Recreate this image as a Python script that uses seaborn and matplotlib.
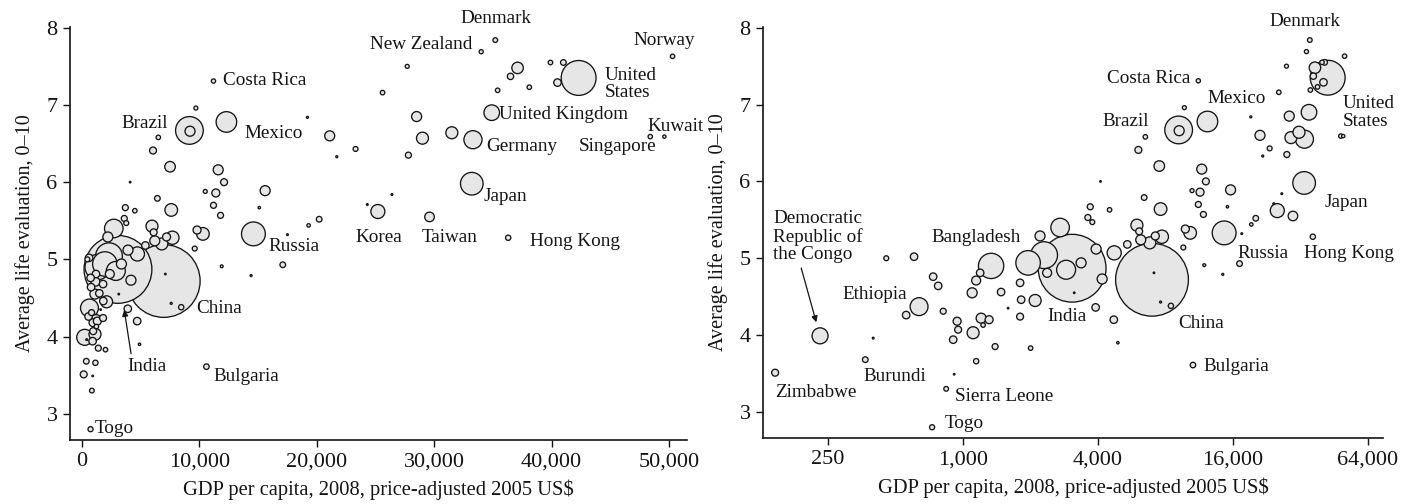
import numpy as np
import pandas as pd
import matplotlib
matplotlib.use("Agg")
import matplotlib.pyplot as plt
import seaborn as sns
from matplotlib.ticker import FixedLocator, FuncFormatter, NullLocator

# ---------------------------------------------------------------------------
# Data: GDP per capita (2005 US$, PPP), average life evaluation (0-10),
# population (millions) for each country, 2008.
# ---------------------------------------------------------------------------
country = [
    "Togo", "Zimbabwe", "Burundi", "Sierra Leone",
    "Democratic Republic of the Congo", "Ethiopia", "Bangladesh", "India",
    "China", "Bulgaria", "Russia", "Hong Kong", "Japan", "Korea", "Taiwan",
    "Germany", "Singapore", "Kuwait", "United Kingdom", "United States",
    "Norway", "Denmark", "New Zealand", "Costa Rica", "Brazil", "Mexico",
]
gdp = [
    727, 145, 366, 840, 230, 636, 1333, 3063, 6960, 10600, 14600, 36300,
    33200, 25200, 29600, 33300, 48400, 49600, 34900, 42300, 50300, 35200,
    34000, 11200, 9150, 12300,
]
life = [
    2.80, 3.51, 3.68, 3.30, 3.99, 4.37, 4.90, 4.87, 4.72, 3.61, 5.33, 5.28,
    5.98, 5.62, 5.55, 6.55, 6.59, 6.59, 6.90, 7.35, 7.63, 7.84, 7.69, 7.31,
    6.67, 6.78,
]
population = [
    6.5, 12, 8, 5.5, 64, 80, 160, 1150, 1325, 7.6, 142, 7, 128, 49, 23, 82,
    4.8, 2.7, 61, 304, 4.8, 5.5, 4.3, 4.5, 192, 106,
]

# remaining countries (unlabelled)
other_gdp = [
    454, 604, 397, 557, 735, 774, 815, 940, 950, 903, 912, 1108, 1203, 1306,
    1228, 1389, 1143, 1097, 1143, 1191, 1477, 1587, 1795, 1815, 1795, 2095,
    2000, 1949, 2297, 2203, 2708, 2880, 3360, 2370, 3920, 4170, 3130, 4720,
    3690, 3600, 3770, 4500, 4100, 6420, 5960, 6100, 6200, 5400, 6800, 7200,
    7700, 7600, 6050, 6500, 7500, 9700, 9200, 10300, 9800, 9600, 11600,
    12100, 11400, 10500, 11200, 11800, 15600, 15100, 19200, 21100, 21700,
    23300, 20200, 19300, 17500, 17100, 14400, 11900, 7600, 8450, 7100, 4700,
    3900, 4900, 25600, 27700, 37100, 36500, 39900, 41000, 40500, 35400,
    38100, 28500, 29000, 31500, 27800, 26400, 24300,
]
other_life = [
    5.00, 5.02, 3.96, 4.26, 4.76, 4.64, 4.31, 4.18, 4.07, 3.94, 3.49, 4.03,
    4.22, 4.20, 4.13, 3.85, 3.66, 4.55, 4.71, 4.81, 4.56, 4.35, 4.68, 4.46,
    4.24, 4.45, 3.83, 4.94, 5.04, 5.29, 5.40, 4.85, 4.94, 4.81, 5.12, 4.73,
    4.55, 5.07, 5.67, 5.53, 5.47, 5.63, 6.00, 5.79, 5.43, 5.35, 5.24, 5.18,
    5.20, 5.29, 5.28, 5.64, 6.41, 6.58, 6.20, 6.96, 6.66, 5.33, 5.38, 5.14,
    6.16, 6.00, 5.86, 5.88, 5.70, 5.57, 5.89, 5.67, 6.84, 6.60, 6.33, 6.43,
    5.52, 5.44, 5.32, 4.93, 4.79, 4.91, 4.43, 4.38, 4.81, 4.20, 4.36, 3.90,
    7.16, 7.50, 7.48, 7.37, 7.55, 7.55, 7.29, 7.19, 7.23, 6.85, 6.57, 6.64,
    6.35, 5.84, 5.71,
]
other_population = [
    6, 14, 0.8, 14, 14, 14, 9, 16, 12, 14, 0.6, 36, 25, 16, 5, 9, 7, 25, 20,
    14, 14, 0.6, 14, 14, 12, 36, 5, 150, 180, 25, 86, 90, 25, 20, 25, 25,
    0.6, 50, 9, 9, 6, 5, 0.6, 8, 36, 12, 25, 14, 36, 16, 44, 40, 12, 5, 28,
    4, 25, 40, 16, 6, 25, 12, 16, 4, 9, 9, 25, 1.5, 1, 25, 1, 6, 8, 3, 0.8,
    8, 1, 2, 1, 7, 0.6, 14, 14, 1.5, 5, 4, 33, 10, 5, 8, 14, 5, 5, 25, 36,
    36, 9, 0.8, 0.8,
]

df = pd.DataFrame({
    "country": country + [""] * len(other_gdp),
    "gdp": gdp + other_gdp,
    "life": life + other_life,
    "pop": population + other_population,
})
# large bubbles underneath, small ones on top
df = df.sort_values("pop", ascending=False).reset_index(drop=True)
lookup = df.set_index("country")

# ---------------------------------------------------------------------------
# Style
# ---------------------------------------------------------------------------
sns.set_theme(style="white")
plt.rcParams["font.family"] = ["Liberation Serif", "DejaVu Serif"]
INK = "#141414"
FILL = "#e6e6e6"
PX = 0.72  # points per pixel at 100 dpi

fig = plt.figure(figsize=(14.04, 5.04), dpi=100)
ax_lin = fig.add_axes([70 / 1404, 64 / 504, 617 / 1404, 413 / 504])
ax_log = fig.add_axes([763 / 1404, 66 / 504, 620 / 1404, 411 / 504])

# bubble area proportional to population
for ax in (ax_lin, ax_log):
    sns.scatterplot(
        data=df, x="gdp", y="life", size="pop",
        sizes=(0, 2747), size_norm=(0, 1325),
        color=FILL, edgecolor=INK, linewidth=0.95,
        legend=False, ax=ax, zorder=3,
    )


def style_axes(ax):
    sns.despine(ax=ax)
    for side in ("left", "bottom"):
        ax.spines[side].set_color(INK)
        ax.spines[side].set_linewidth(1.2)
    ax.tick_params(axis="both", direction="out", length=5, width=1.0,
                   color=INK, labelcolor=INK, labelsize=16, pad=4,
                   left=True, bottom=True)
    ax.set_ylim(2.66, 8.01)
    ax.yaxis.set_major_locator(FixedLocator([3, 4, 5, 6, 7, 8]))
    ax.set_ylabel("Average life evaluation, 0\u201310", fontsize=14.5,
                  color=INK, labelpad=8)
    ax.set_xlabel("GDP per capita, 2008, price-adjusted 2005 US\\$",
                  fontsize=14.8, color=INK, labelpad=6)
    ax.grid(False)


thousands = FuncFormatter(lambda v, _: f"{v:,.0f}")

style_axes(ax_lin)
ax_lin.set_xlim(-1022, 51530)
ax_lin.xaxis.set_major_locator(FixedLocator([0, 10000, 20000, 30000, 40000, 50000]))
ax_lin.xaxis.set_major_formatter(thousands)

style_axes(ax_log)
ax_log.set_xscale("log")
ax_log.set_xlim(128, 74650)
ax_log.xaxis.set_major_locator(FixedLocator([250, 1000, 4000, 16000, 64000]))
ax_log.xaxis.set_major_formatter(thousands)
ax_log.xaxis.set_minor_locator(NullLocator())


def label(ax, name, text, dx, dy, ha="left", size=13.8, arrow=None):
    """Place a country name at an offset (in pixels) from its bubble."""
    row = lookup.loc[name]
    kw = {}
    if arrow is not None:
        relpos, shrink = arrow
        kw["arrowprops"] = dict(arrowstyle="-|>", color=INK, lw=0.9,
                                mutation_scale=9, shrinkA=1,
                                shrinkB=shrink * PX, relpos=relpos)
    ax.annotate(text, xy=(row.gdp, row.life), xytext=(dx * PX, dy * PX),
                textcoords="offset points", ha=ha, va="center",
                fontsize=size, color=INK, linespacing=1.05,
                annotation_clip=False, zorder=5, **kw)


# linear panel
label(ax_lin, "Denmark", "Denmark", 1, 22, "center")
label(ax_lin, "New Zealand", "New Zealand", -9, 7, "right")
label(ax_lin, "Norway", "Norway", -8, 16, "center")
label(ax_lin, "United States", "United\nStates", 26, -6)
label(ax_lin, "United Kingdom", "United Kingdom", 7, -2)
label(ax_lin, "Kuwait", "Kuwait", 11, 10, "center")
label(ax_lin, "Singapore", "Singapore", -33, -10, "center")
label(ax_lin, "Germany", "Germany", 13, -7)
label(ax_lin, "Japan", "Japan", 12, -13)
label(ax_lin, "Korea", "Korea", 1, -26, "center")
label(ax_lin, "Taiwan", "Taiwan", 20, -21, "center")
label(ax_lin, "Hong Kong", "Hong Kong", 22, -4)
label(ax_lin, "Costa Rica", "Costa Rica", 10, 1)
label(ax_lin, "Brazil", "Brazil", -21, 7, "right")
label(ax_lin, "Mexico", "Mexico", 18, -12)
label(ax_lin, "Russia", "Russia", 15, -13)
label(ax_lin, "China", "China", 33, -28)
label(ax_lin, "India", "India", 29.5, -97.5, "center",
      arrow=((0.1, 1.0), 41))
label(ax_lin, "Bulgaria", "Bulgaria", 7, -10)
label(ax_lin, "Togo", "Togo", 4, 1)

# log panel
label(ax_log, "Denmark", "Denmark", -5, 19, "center")
label(ax_log, "Costa Rica", "Costa Rica", -8, 2, "right")
label(ax_log, "Mexico", "Mexico", 29.5, 23, "center")
label(ax_log, "Brazil", "Brazil", -30, 8, "right")
label(ax_log, "United States", "United\nStates", 15, -34.5)
label(ax_log, "Japan", "Japan", 20, -20)
label(ax_log, "Hong Kong", "Hong Kong", -9, -17)
label(ax_log, "Russia", "Russia", 13, -21)
label(ax_log, "China", "China", 26, -44)
label(ax_log, "India", "India", -5, -48, "center")
label(ax_log, "Bulgaria", "Bulgaria", 11, -1)
label(ax_log, "Bangladesh", "Bangladesh", -15, 28, "center")
label(ax_log, "Democratic Republic of the Congo",
      "Democratic\nRepublic of\nthe Congo", -47, 99,
      arrow=((0.3, 0.0), 14))
label(ax_log, "Ethiopia", "Ethiopia", -12, 12, "right")
label(ax_log, "Burundi", "Burundi", -2, -17)
label(ax_log, "Zimbabwe", "Zimbabwe", 0, -20)
label(ax_log, "Sierra Leone", "Sierra Leone", 9, -8)
label(ax_log, "Togo", "Togo", 13, 4)

fig.savefig("out.png", dpi=100, facecolor="white")
